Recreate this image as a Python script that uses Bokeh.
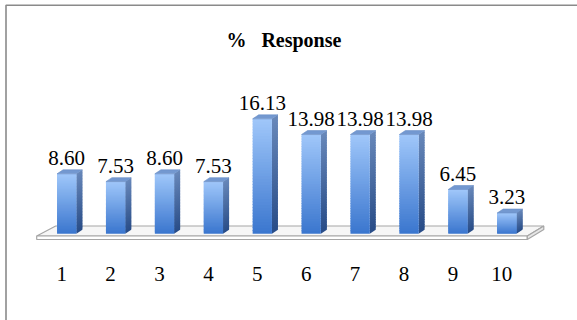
import numpy as np
from bokeh.plotting import figure
from bokeh.models import Range1d, ColumnDataSource
from bokeh.core.properties import value
from bokeh.embed import file_html
from bokeh.resources import INLINE

# ---- data ----
categories = ["1", "2", "3", "4", "5", "6", "7", "8", "9", "10"]
percent = [8.60, 7.53, 8.60, 7.53, 16.13, 13.98, 13.98, 13.98, 6.45, 3.23]
value_labels = ["8.60", "7.53", "8.60", "7.53", "16.13", "13.98", "13.98", "13.98", "6.45", "3.23"]
title_text = "%\u00a0\u00a0\u00a0Response"

# ---- layout (pixels) ----
W, H = 577, 320
X0 = 66.2     # pixel x of first category centre
STEP = 48.9   # pixels per category
Y0 = 236.1    # pixel y of value 0
K = 7.3       # pixels per percent

def sx(px):
    return 1 + (px - X0) / STEP

def sy(py):
    return (Y0 - py) / K

def dpx(px):
    return px / STEP

def dpy(py):
    return py / K

p = figure(width=W, height=H, output_backend="svg", toolbar_location=None,
           x_range=Range1d(sx(0), sx(W)), y_range=Range1d(sy(H), sy(0)),
           x_axis_location=None, y_axis_location=None, min_border=0)
p.grid.visible = False
p.outline_line_color = None
p.background_fill_color = "white"
p.border_fill_color = "white"

# chart frame border
p.line(x=[sx(5.5), sx(5.5), sx(W + 20)], y=[sy(H + 20), sy(4.8), sy(4.8)],
       line_color="#8a8a8a", line_width=1.6)

xs = np.arange(1, len(categories) + 1, dtype=float)
vals = np.array(percent)

hw = dpx(9.65)
ddx = dpx(6.0)
ddy = dpy(4.0)
base = sy(233.3)

# ---- floor ----
fl = xs[0] - dpx(30)
fr = xs[-1] + dpx(20.5)
fdx = dpx(16.5)
fdy = dpy(10)
ftop = sy(235.5)
fbot = sy(239)
p.patch(x=[fl, fr, fr + fdx, fl + fdx + dpx(2.5)], y=[ftop, ftop, ftop + fdy, ftop + fdy],
        fill_color="#f6f6f6", line_color="#a6a6a6", line_width=1.2)
p.patch(x=[fl, fr, fr, fl], y=[ftop, ftop, fbot, fbot],
        fill_color="#ffffff", line_color="#a6a6a6", line_width=1.2)
p.patch(x=[fr, fr + fdx, fr + fdx, fr], y=[ftop, ftop + fdy, ftop + fdy - (ftop - fbot), fbot],
        fill_color="#e6e6e6", line_color="#a6a6a6", line_width=1.2)

# ---- bars (front face gradient as overlapping slices) ----
N = 40
c_bot = np.array([58, 118, 206])
c_top = np.array([160, 199, 250])
s_bot = np.array([40, 76, 135])
s_top = np.array([104, 136, 186])
ov = dpy(1.0)

def hexc(c):
    return "#%02x%02x%02x" % tuple(int(round(v)) for v in c)

fl_l, fl_r, fl_b, fl_t, fl_c = [], [], [], [], []
sd_x, sd_y, sd_c = [], [], []
for x, v in zip(xs, vals):
    edges = np.linspace(base, v, N + 1)
    for j in range(N):
        t = (j + 0.5) / N
        top = min(edges[j + 1] + ov, v)
        fl_l.append(x - hw)
        fl_r.append(x + hw)
        fl_b.append(edges[j])
        fl_t.append(top)
        fl_c.append(hexc(c_bot + (c_top - c_bot) * t))
        r = x + hw
        sd_x.append([r, r + ddx, r + ddx, r])
        sd_y.append([edges[j], edges[j] + ddy, top + ddy, top])
        sd_c.append(hexc(s_bot + (s_top - s_bot) * t))

p.patches(xs=sd_x, ys=sd_y, fill_color=sd_c, line_color=None)
p.quad(left=fl_l, right=fl_r, bottom=fl_b, top=fl_t, fill_color=fl_c, line_color=None)

top_x = [[x - hw, x - hw + ddx, x + hw + ddx, x + hw] for x in xs]
top_y = [[v, v + ddy, v + ddy, v] for v in vals]
p.patches(xs=top_x, ys=top_y, fill_color="#7398d0", line_color="#6a8fc6", line_width=0.6)

# ---- value labels ----
src = ColumnDataSource(dict(x=xs, y=vals + dpy(15.8), t=value_labels))
p.text(x="x", y="y", text="t", source=src, text_font=value("Liberation Serif"),
       text_font_size="21px", text_align="center", text_baseline="alphabetic",
       text_color="black")

# ---- category labels ----
csrc = ColumnDataSource(dict(x=xs - dpx(5), y=[sy(273.3)] * len(xs), t=categories))
p.text(x="x", y="y", text="t", source=csrc, text_font=value("Liberation Serif"),
       text_font_size="21px", text_align="center", text_baseline="alphabetic",
       text_color="black")

# ---- title ----
p.text(x=[sx(283.4)], y=[sy(39.3)], text=[title_text], text_font=value("Liberation Serif"),
       text_font_size="20px", text_font_style="bold", text_align="center",
       text_baseline="alphabetic", text_color="black")

open("out.html", "w").write(file_html(p, INLINE))
